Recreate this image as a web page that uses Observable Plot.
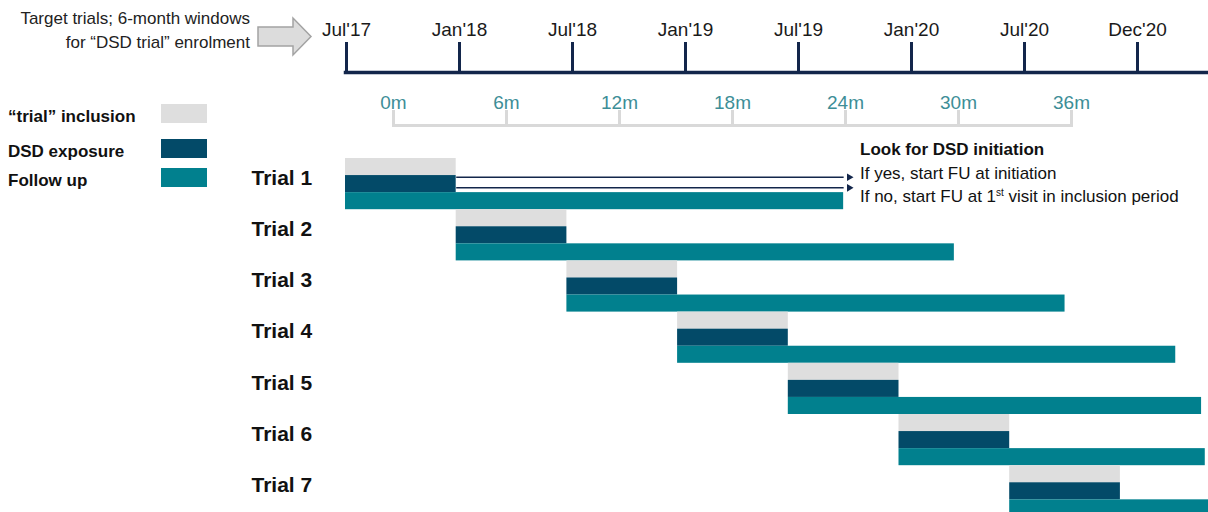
<!DOCTYPE html>
<html>
<head>
<meta charset="utf-8">
<script src="https://cdn.jsdelivr.net/npm/d3@7"></script>
<script src="https://cdn.jsdelivr.net/npm/@observablehq/plot@0.6"></script>
<style>
html, body { margin: 0; padding: 0; width: 1208px; height: 512px; overflow: hidden; background: #fff;
  font-family: "Liberation Sans", Arial, Helvetica, sans-serif; }
#root { position: relative; width: 1208px; height: 512px; }
#root > svg, #root > div { position: absolute; left: 0; }
.intro { top: 7px; width: 250px; text-align: right; font-size: 17px; line-height: 24px; color: #222; white-space: nowrap; }
.legend-label { position: absolute; left: 8px; font-size: 17px; font-weight: bold; color: #111; line-height: 20px; white-space: nowrap; }
.legend-swatch { position: absolute; left: 161px; width: 46px; height: 19px; }
.note { left: 860px !important; top: 138px; font-size: 17px; line-height: 23.5px; color: #111; white-space: nowrap; }
.note b { font-weight: bold; }
.note sup { font-size: 10px; vertical-align: 6px; line-height: 0; }
</style>
</head>
<body>
<div id="root"></div>
<script>
// ---------- data ----------
const calendarLabels = ["Jul'17", "Jan'18", "Jul'18", "Jan'19", "Jul'19", "Jan'20", "Jul'20", "Dec'20"];
const relativeMonths = [0, 6, 12, 18, 24, 30, 36];
const trialNames = ["Trial 1", "Trial 2", "Trial 3", "Trial 4", "Trial 5", "Trial 6", "Trial 7"];
const phaseNames = ["\u201Ctrial\u201D inclusion", "DSD exposure", "Follow up"];
const phaseColors = ["#dedede", "#034a68", "#01808e"];
const windowStart = [0, 6, 12, 18, 24, 30, 36];   // months since Jul'17
const windowEnd = [6, 12, 18, 24, 30, 36, 42];
const followUpEnd = [27, 33, 39, 45, 46.4, 46.6, 46.8];
const noteArrows = [
  { from: 6, to: 27.3, row: 1.1 },
  { from: 6, to: 27.3, row: 1.72 }
];
const introLines = ["Target trials; 6-month windows", "for \u201CDSD trial\u201D enrolment"];
const noteLines = ["Look for DSD initiation", "If yes, start FU at initiation", "If no, start FU at 1<sup>st</sup> visit in inclusion period"];

// ---------- derived table ----------
const segments = trialNames.flatMap((t, i) => [
  { trial: t, phase: phaseNames[0], start: windowStart[i], end: windowEnd[i], row: 3 * i },
  { trial: t, phase: phaseNames[1], start: windowStart[i], end: windowEnd[i], row: 3 * i + 1 },
  { trial: t, phase: phaseNames[2], start: windowStart[i], end: followUpEnd[i], row: 3 * i + 2 }
]);

const root = document.getElementById("root");
const navy = "#13264b";
const font = "Liberation Sans, Arial, sans-serif";

// ---------- calendar timeline ----------
const topAxis = Plot.plot({
  width: 1208, height: 80,
  marginLeft: 345, marginRight: 0, marginTop: 42, marginBottom: 8,
  x: { type: "point", domain: calendarLabels, range: [345, 1137], padding: 0, axis: null },
  style: { background: "transparent", overflow: "visible", fontFamily: font },
  marks: [
    Plot.frame({ anchor: "bottom", stroke: navy, strokeWidth: 3.5 }),
    Plot.tickX(calendarLabels, { x: d => d, stroke: navy, strokeWidth: 3 }),
    Plot.text(calendarLabels, { x: d => d, frameAnchor: "top", dy: -20, fontSize: 19, fill: "#1a1a1a" })
  ]
});
topAxis.style.top = "0px";
root.appendChild(topAxis);

// ---------- relative months axis ----------
const monthAxis = Plot.plot({
  width: 1208, height: 50,
  marginLeft: 393, marginRight: 137, marginTop: 30, marginBottom: 5,
  x: { type: "linear", domain: [0, 36], range: [393, 1071], axis: null },
  style: { background: "transparent", overflow: "visible", fontFamily: font },
  marks: [
    Plot.frame({ anchor: "bottom", stroke: "#d9d9d9", strokeWidth: 3 }),
    Plot.tickX(relativeMonths, { x: d => d, stroke: "#d9d9d9", strokeWidth: 3 }),
    Plot.text(relativeMonths, { x: d => d, text: d => `${d}m`, frameAnchor: "top", dy: -15, fontSize: 19, fill: "#3d8e97" })
  ]
});
monthAxis.style.top = "80px";
root.appendChild(monthAxis);

// ---------- gantt ----------
const gantt = Plot.plot({
  width: 1208, height: 512,
  marginLeft: 251, marginRight: 0, marginTop: 158, marginBottom: 0,
  x: { type: "linear", domain: [0, 47], range: [345, 345 + 47 * 18.45], axis: null },
  y: { type: "linear", domain: [0, 21], range: [158, 516.4], axis: null },
  color: { domain: phaseNames, range: phaseColors },
  style: { background: "transparent", fontFamily: font },
  marks: [
    Plot.rect(segments, { x1: "start", x2: "end", y1: "row", y2: d => d.row + 1, fill: "phase" }),
    Plot.text(trialNames, { y: (d, i) => 3 * i + 1.5, frameAnchor: "left", textAnchor: "start", dy: -6,
      fontSize: 21, fontWeight: "bold", fill: "#111" }),
    Plot.link(noteArrows, { x1: "from", x2: d => d.to - 0.3, y1: "row", y2: "row", stroke: navy, strokeWidth: 1.5 }),
    Plot.dot(noteArrows, { x: "to", y: "row", symbol: "triangle2", rotate: 90, r: 3.6, fill: navy, stroke: "none" })
  ]
});
gantt.style.top = "0px";
root.appendChild(gantt);

// ---------- intro text + block arrow ----------
const intro = document.createElement("div");
intro.className = "intro";
intro.innerHTML = introLines.join("<br>");
root.appendChild(intro);

const arrowDiv = document.createElement("div");
arrowDiv.style.top = "0px";
arrowDiv.innerHTML = `<svg width="320" height="60" style="display:block">
  <polygon points="258,27 293,27 293,18 311,36.5 293,55 293,46 258,46" fill="#dcdcdc" stroke="#a3a3a3" stroke-width="1.5"/></svg>`;
root.appendChild(arrowDiv);

// ---------- legend ----------
const legend = document.createElement("div");
legend.style.top = "0px";
legend.style.width = "220px";
const swatchTops = [104, 139, 168];
legend.innerHTML = phaseNames.map((p, i) =>
  `<div class="legend-label" style="top:${swatchTops[i] + 2.5}px">${p}</div>` +
  `<div class="legend-swatch" style="top:${swatchTops[i]}px;background:${phaseColors[i]}"></div>`).join("");
root.appendChild(legend);

// ---------- note ----------
const note = document.createElement("div");
note.className = "note";
note.innerHTML = noteLines.map((l, i) => i === 0 ? `<b>${l}</b>` : l).join("<br>");
root.appendChild(note);
</script>
</body>
</html>
